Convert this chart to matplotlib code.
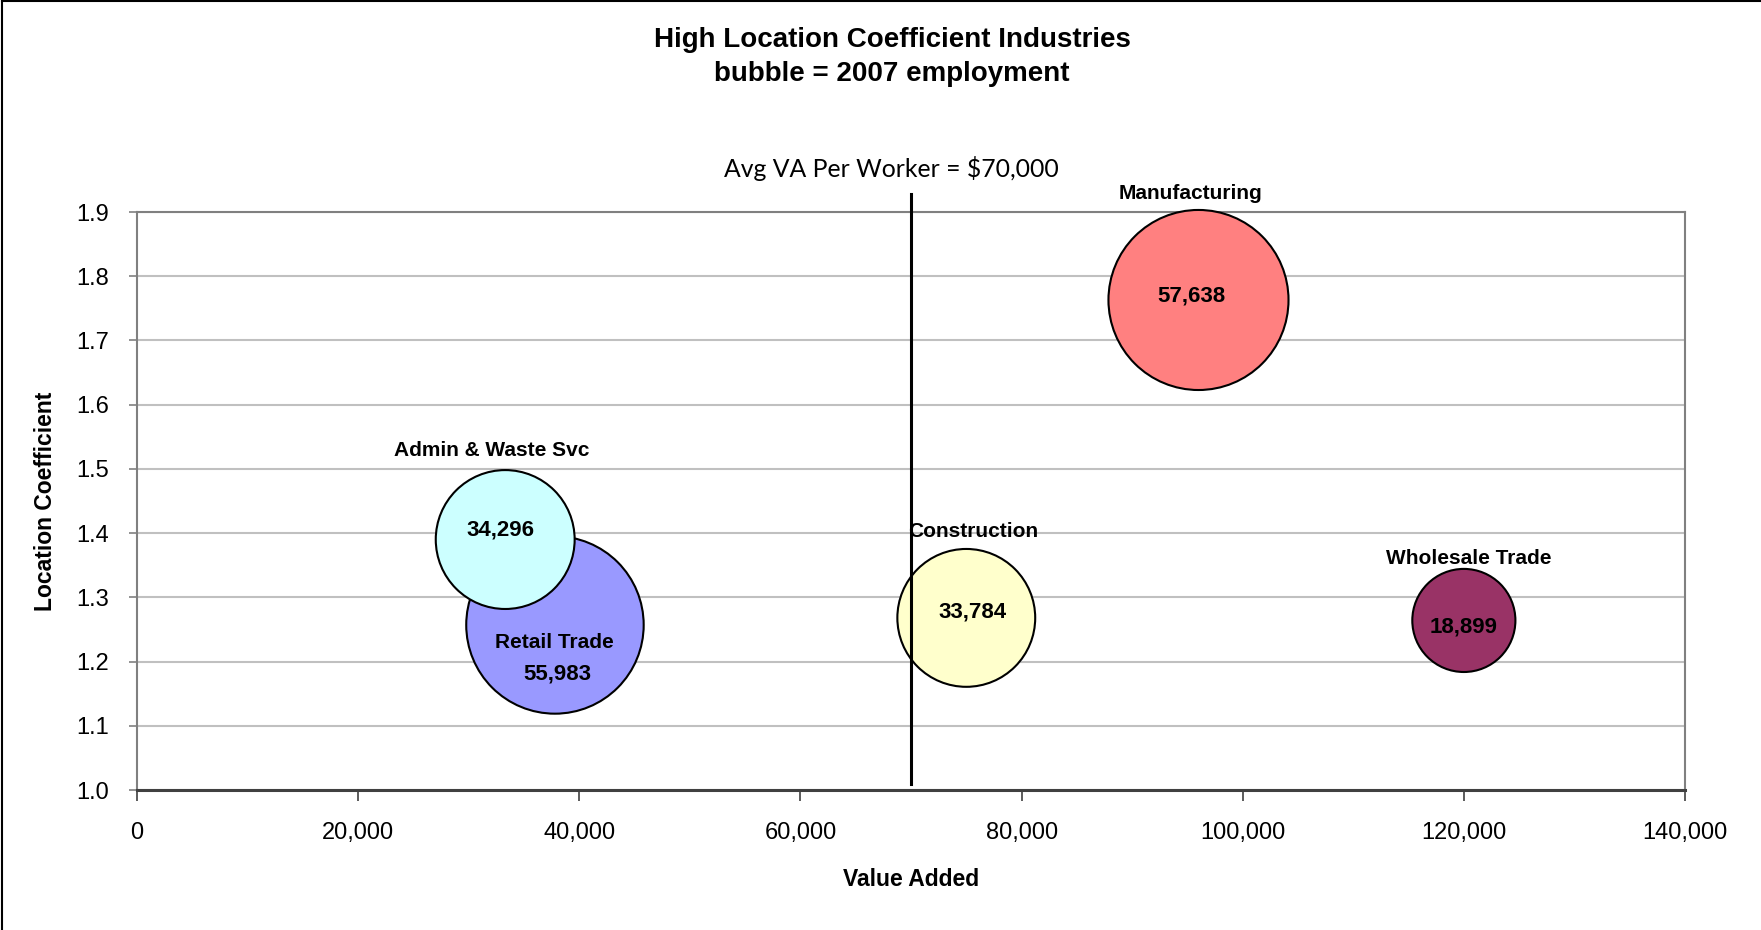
import matplotlib.pyplot as plt
import numpy as np
from matplotlib.ticker import FuncFormatter
from matplotlib.lines import Line2D

plt.rcParams['font.family'] = ['Liberation Sans', 'DejaVu Sans']

# data (drawn in this order, retail under admin)
industries = ["Manufacturing", "Retail Trade", "Admin & Waste Svc", "Construction", "Wholesale Trade"]
value_added = [96000, 37800, 33300, 75000, 120000]
location_coef = [1.763, 1.257, 1.390, 1.268, 1.264]
employment = [57638, 55983, 34296, 33784, 18899]
colors = ["#FF8080", "#9999FF", "#CCFFFF", "#FFFFCC", "#993366"]
avg_va = 70000

x_ticks = [0, 20000, 40000, 60000, 80000, 100000, 120000, 140000]
y_ticks = [1.0, 1.1, 1.2, 1.3, 1.4, 1.5, 1.6, 1.7, 1.8, 1.9]

# label offsets in pixels from bubble centre: (name, value)
name_off = [(-8, 106), (-1, -18), (-14, 89), (7, 86), (5, 62)]
val_off = [(-7, 4), (2, -49), (-5, 10), (6, 6), (0, -7)]


def main():
    fig = plt.figure(figsize=(17.61, 9.30), dpi=100)
    ax = fig.add_axes([137/1761, 1-790/930, (1685-137)/1761, (790-212)/930])

    # bubble area ~ employment (excel style)
    sizes = [0.2916*e for e in employment]
    ax.scatter(value_added, location_coef, s=sizes, c=colors, edgecolors='black',
               linewidths=1.5, zorder=3, clip_on=False)

    for i in range(len(industries)):
        ax.annotate(industries[i], (value_added[i], location_coef[i]), xytext=name_off[i],
                    textcoords='offset pixels', ha='center', va='center',
                    fontsize=15, fontweight='bold', zorder=6)
        ax.annotate(f"{employment[i]:,}", (value_added[i], location_coef[i]), xytext=val_off[i],
                    textcoords='offset pixels', ha='center', va='center',
                    fontsize=16, fontweight='bold', zorder=6)

    # average VA line, sticks out over the top of the plot area
    ax.plot([avg_va, avg_va], [1.009, 1.928], color='black', lw=2.2, zorder=4, clip_on=False)
    ax.text(avg_va - 1730, 1.967, "Avg VA Per Worker = $70,000", ha='center', va='center',
            fontsize=17.8, family=['Lato', 'DejaVu Sans'])

    ax.set_xlim(0, 140000)
    ax.set_ylim(1.0, 1.9)
    ax.set_xticks(x_ticks)
    ax.set_yticks(y_ticks)
    ax.xaxis.set_major_formatter(FuncFormatter(lambda v, p: f"{int(v):,}"))
    ax.yaxis.set_major_formatter(FuncFormatter(lambda v, p: f"{v:.1f}"))
    ax.tick_params(axis='x', length=8, width=1.2, pad=15, labelsize=17, color='#404040')
    ax.tick_params(axis='y', length=6, width=1.2, pad=14, labelsize=17, color='#808080')

    ax.grid(axis='y', color='#C0C0C0', lw=1.5)
    ax.set_axisbelow(True)
    for s in ['top', 'right', 'left']:
        ax.spines[s].set_color('#808080')
        ax.spines[s].set_linewidth(1.5)
    ax.spines['bottom'].set_color('#404040')
    ax.spines['bottom'].set_linewidth(2.2)

    ax.set_xlabel("Value Added", fontsize=16.5, fontweight='bold', labelpad=17)
    ax.set_ylabel("Location Coefficient", fontsize=16.5, fontweight='bold', labelpad=14)

    fig.text(892/1761, 1-40/930, "High Location Coefficient Industries", ha='center', va='center',
             fontsize=20, fontweight='bold')
    fig.text(892/1761, 1-74/930, "bubble = 2007 employment", ha='center', va='center',
             fontsize=20, fontweight='bold')

    # thin frame round the chart (left and top edge visible)
    fig.add_artist(Line2D([2/1761, 2/1761], [0, 1-1/930], color='black', lw=1.5))
    fig.add_artist(Line2D([2/1761, 1], [1-1/930, 1-1/930], color='black', lw=1.5))

    plt.savefig('out.png', dpi=100)


main()
